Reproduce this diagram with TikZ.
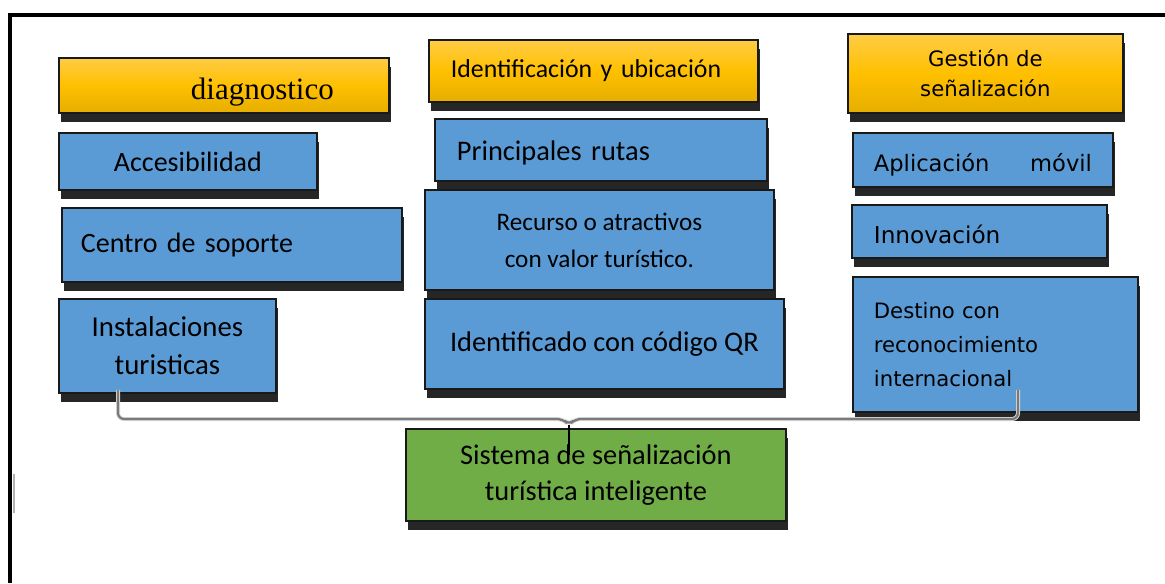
\documentclass[tikz,border=0pt]{standalone}
\usepackage{fontspec}
\setmainfont{Carlito}
\newfontfamily\dejavu{DejaVu Sans}
\newfontfamily\tnr{Liberation Serif}
\usetikzlibrary{shadows,calc}
\definecolor{hdtop}{HTML}{FFCC45}
\definecolor{hdmid}{HTML}{FFC000}
\definecolor{hdbot}{HTML}{E6AE00}
\definecolor{boxblue}{HTML}{5B9BD5}
\definecolor{boxgreen}{HTML}{70AD47}
\definecolor{brkgray}{HTML}{7A7A7A}

\begin{document}
\begin{tikzpicture}[
    x=0.5pt,y=-0.5pt,
    bx/.style  = {rectangle,draw=black!90,line width=0.9pt,anchor=north west,inner sep=0pt,
                  drop shadow={shadow xshift=1.2pt,shadow yshift=-4.5pt,fill=black,opacity=0.85}},
    hd/.style  = {bx,top color=hdtop,bottom color=hdbot,middle color=hdmid},
    bl/.style  = {bx,fill=boxblue},
    gr/.style  = {bx,fill=boxgreen},
    lt/.style  = {align=left,inner xsep=#1},
    brk/.style = {brkgray,line width=1.1pt,rounded corners=3pt},
  ]
  \useasboundingbox (0,0) rectangle (1165,583);

  % marco
  \draw[black,line width=1.6pt] (10,583) -- (10,15) -- (1165,15);
  \draw[black!30,line width=1pt] (14,474) -- (14,513);

  % columna izquierda
  \node[hd,minimum width=165pt,minimum height=27.5pt,text width=155pt,lt=5pt,
        font=\tnr\fontsize{15.5}{18}\selectfont] (dia) at (58,57) {\hspace*{61pt}\rule{0pt}{17pt}diagnostico};
  \node[bl,minimum width=129pt,minimum height=28.5pt,align=center,
        font=\fontsize{14}{17}\selectfont] (acc) at (58,132) {Accesibilidad};
  \node[bl,minimum width=170pt,minimum height=37pt,text width=151pt,lt=9.5pt,
        font=\fontsize{14}{17}\selectfont] (cen) at (61,207) {Centro de soporte};
  \node[bl,minimum width=108.5pt,minimum height=47pt,align=center,
        font=\fontsize{14.4}{19}\selectfont] (ins) at (58,298) {Instalaciones\\turisticas};

  % columna central
  \node[hd,minimum width=164.5pt,minimum height=31pt,text width=142.5pt,lt=11pt,
        font=\fontsize{12.9}{15}\selectfont] (idu) at (428,39) {Identificación y ubicación};
  \node[bl,minimum width=166pt,minimum height=31pt,text width=144pt,lt=11pt,
        font=\fontsize{14.2}{17}\selectfont] (pri) at (434,118) {\rule{0pt}{13pt}Principales rutas};
  \node[bl,minimum width=174.5pt,minimum height=50pt,align=center,
        font=\fontsize{12.6}{18.5}\selectfont] (rec) at (424,189) {Recurso o atractivos\\con valor turístico.};
  \node[bl,minimum width=179.5pt,minimum height=45pt,align=center,
        font=\fontsize{14.2}{17}\selectfont] (qr) at (424,298) {Identificado con código QR};

  % columna derecha
  \node[hd,minimum width=137.5pt,minimum height=39.5pt,align=center,
        font=\dejavu\fontsize{10.6}{15}\selectfont] (ges) at (847,33) {Gestión de\\señalización};
  \node[bl,minimum width=130pt,minimum height=27pt,text width=109pt,lt=10.5pt,
        font=\dejavu\fontsize{11.3}{14}\selectfont] (apl) at (852,132) {\rule{0pt}{14pt}Aplicación\hfill móvil};
  \node[bl,minimum width=127.5pt,minimum height=26.5pt,text width=105.5pt,lt=11pt,
        font=\dejavu\fontsize{11.6}{14}\selectfont] (inn) at (851,204) {\rule{0pt}{12pt}Innovación};
  \node[bl,minimum width=142.5pt,minimum height=67.5pt,text width=121.5pt,lt=10.5pt,
        font=\dejavu\fontsize{10.6}{17}\selectfont] (des) at (852,276) {Destino con\\reconocimiento\\internacional};

  % resultado
  \node[gr,minimum width=190pt,minimum height=46pt,align=center,
        font=\fontsize{14.2}{18}\selectfont] (sis) at (405,428) {Sistema de señalización\\turística inteligente};

  % llave
  \coordinate (bl) at ($(ins.south west)+(60,-4)$);
  \coordinate (br) at ($(des.south west)+(166,-23)$);
  \coordinate (tip) at ($(sis.north west)+(164,-3)$);
  \coordinate (tail) at ($(sis.north west)+(164,27)$);
  \draw[brk,black!15,line width=2pt,shift={(0,6)}]
    (bl) |- ($(tip)+(-6,-6)$) -- (tip) -- ($(tip)+(6,-6)$) -| (br);
  \draw[brk] (bl) |- ($(tip)+(-6,-6)$) -- (tip) -- ($(tip)+(6,-6)$) -| (br);
  \draw[black,line width=0.9pt] (tip) -- (tail);

\end{tikzpicture}
\end{document}
